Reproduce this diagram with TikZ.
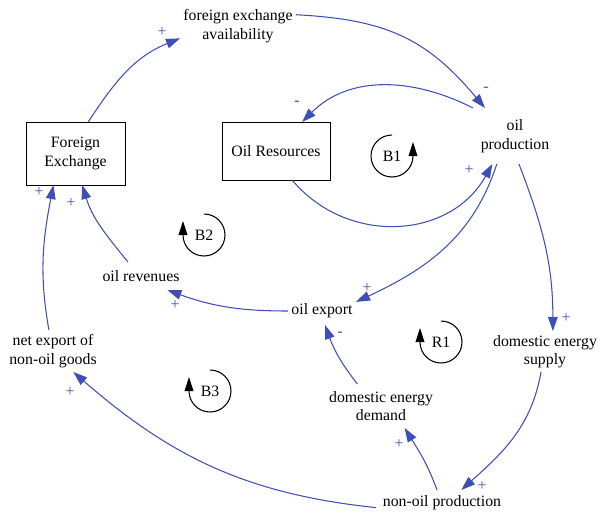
\documentclass[tikz,border=0pt]{standalone}
\usepackage{fontspec}
\setmainfont{Liberation Serif}
\usepackage{xcolor}
\usepackage{tikz}
\usetikzlibrary{arrows.meta}
\definecolor{linkblue}{HTML}{3F4FB5}

\begin{document}
\begin{tikzpicture}[
  x=0.02cm, y=0.02cm,
  font=\fontsize{9}{10.5}\selectfont,
  var/.style={inner sep=0pt, outer sep=0pt, align=center},
  stockbox/.style={draw, line width=0.5pt, inner sep=0pt, outer sep=0pt, align=center},
  link/.style={-{Triangle[length=8pt, width=5.5pt]}, draw=linkblue, line width=0.6pt},
  pol/.style={text=linkblue, inner sep=0pt},
  loopsym/.style={circle, inner sep=0pt, outer sep=0pt, minimum size=0.84cm},
  looparr/.style={-{Triangle[length=8pt, width=5pt]}, line width=0.6pt}
]
\useasboundingbox (0,0) rectangle (605,512);

% variables
\node[stockbox, minimum width=1.98cm, minimum height=1.26cm] (fe) at (75.5,358.5) {Foreign\\Exchange};
\node[stockbox, minimum width=2.16cm, minimum height=1.16cm] (ores) at (276,361) {Oil Resources};
\node[var, minimum width=2.32cm, minimum height=0.8cm] (fea) at (238,486) {foreign exchange\\availability};
\node[var, minimum width=1.68cm, minimum height=1.12cm] (op) at (515,376) {oil\\production};
\node[var, minimum width=1.36cm, minimum height=0.56cm] (oexp) at (322,201) {oil export};
\node[var, minimum width=1.6cm, minimum height=0.56cm] (orev) at (141,236) {oil revenues};
\node[var, minimum width=1.84cm, minimum height=0.84cm] (nexp) at (53,161) {net export of\\non-oil goods};
\node[var, minimum width=2.16cm, minimum height=0.82cm] (des) at (545,160.5) {domestic energy\\supply};
\node[var, minimum width=2.16cm, minimum height=0.88cm] (ded) at (381,106) {domestic energy\\demand};
\node[var, minimum width=2.64cm, minimum height=0.52cm] (nop) at (442,9) {non-oil production};

% causal links
\draw[link] (fe.68) to[out=57, in=202] (fea.192);
\draw[link] (fea.11) to[out=-3, in=130, looseness=1.1] (op.137);
\draw[link] (op.north west) to[out=153, in=45] (ores.48);
\draw[link] (ores.299) to[out=-50, in=241, looseness=1.1] (op.231);
\draw[link] (op.237) to[out=252, in=25] (oexp.15);
\draw[link] (op.278) to[out=291, in=90] (des.69);
\draw[link] (oexp.west) to[out=180, in=340] (orev.-28);
\draw[link] (orev.133) to[out=129, in=287] (fe.282);
\draw[link] (nexp.101) to[out=100, in=259] (fe.235);
\draw[link] (des.259) to[out=260, in=42] (nop.34);
\draw[link] (nop.184) to[out=174, in=319] (nexp.314);
\draw[link] (nop.111) to[out=110, in=302] (ded.317);
\draw[link] (ded.137) to[out=128, in=290] (oexp.282);

% polarities
\node[pol] (p1) at (162,480) {+};
\node[pol] (p2) at (486,423) {-};
\node[pol] (p3) at (297,409) {-};
\node[pol] (p4) at (469,342) {+};
\node[pol] (p5) at (367,224) {+};
\node[pol] (p6) at (566,194) {+};
\node[pol] (p7) at (175,207) {+};
\node[pol] (p8) at (71,309) {+};
\node[pol] (p9) at (39,320) {+};
\node[pol] (p10) at (482,26) {+};
\node[pol] (p11) at (70,120) {+};
\node[pol] (p12) at (399,68) {+};
\node[pol] (p13) at (340,178) {-};

% loops
\node[loopsym] (b1) at (392,356) {B1};
\node[loopsym] (b2) at (204,277) {B2};
\node[loopsym] (b3) at (210,121) {B3};
\node[loopsym] (r1) at (441,170) {R1};
\draw[looparr] (b1.90) arc[start angle=90, end angle=360, radius=0.42cm] -- ++(0,0.28cm);
\draw[looparr] (b2.90) arc[start angle=90, end angle=-180, radius=0.42cm] -- ++(0,0.28cm);
\draw[looparr] (b3.90) arc[start angle=90, end angle=-180, radius=0.42cm] -- ++(0,0.28cm);
\draw[looparr] (r1.90) arc[start angle=90, end angle=-180, radius=0.42cm] -- ++(0,0.28cm);
\end{tikzpicture}
\end{document}
